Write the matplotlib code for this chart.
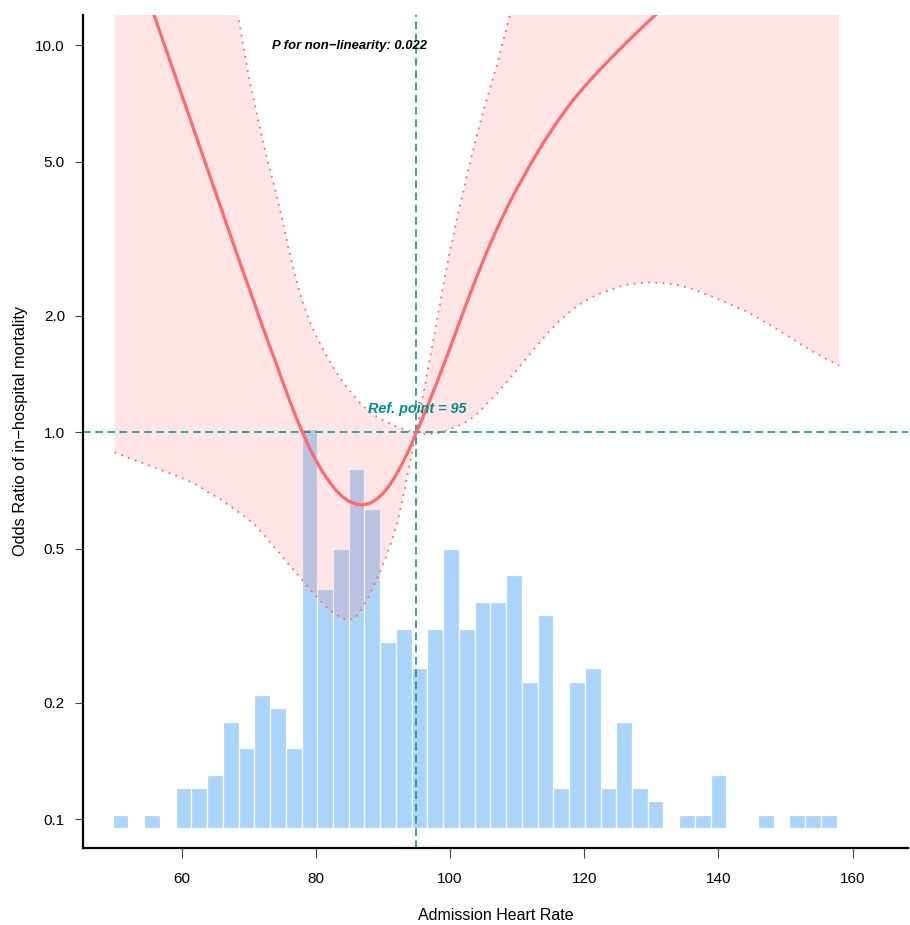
import matplotlib.pyplot as plt
import numpy as np

# heart rate grid and spline OR estimates with 95% CI
hr = [50, 52, 54, 56, 58, 60, 62, 64, 66, 68, 69, 70, 71, 72, 73, 74, 75, 76, 77, 78, 79, 80,
      81, 82, 83, 84, 85, 86, 87, 88, 89, 90, 91, 92, 93, 94, 95, 96, 97, 98, 99, 100, 101,
      102, 103, 104, 105, 106, 107, 108, 109, 110, 112, 114, 116, 118, 120, 122, 124, 126,
      128, 130, 132, 134, 136, 138, 140, 142, 144, 146, 148, 150, 152, 154, 156, 158]

odds = [23.6, 18.75, 14.9, 11.83, 9.40, 7.46, 5.93, 4.71, 3.74, 2.97, 2.65, 2.37, 2.12, 1.89,
        1.69, 1.52, 1.36, 1.22, 1.10, 1.0, 0.916, 0.847, 0.791, 0.745, 0.708, 0.681, 0.662,
        0.652, 0.649, 0.655, 0.670, 0.695, 0.731, 0.778, 0.838, 0.910, 1.0, 1.099, 1.211,
        1.340, 1.486, 1.652, 1.841, 2.051, 2.280, 2.529, 2.793, 3.069, 3.357, 3.656, 3.963,
        4.276, 4.932, 5.636, 6.353, 7.096, 7.816, 8.531, 9.268, 10.05, 10.86, 11.72, 12.6,
        13.6, 14.6, 15.7, 16.9, 18.2, 19.6, 21.1, 22.7, 24.4, 26.2, 28.2, 30.3, 32.6]

upper = [700, 420, 250, 150, 95, 62, 42, 30, 21, 13.2, 10.4, 8.3, 6.9, 5.75, 4.9, 4.2, 3.55,
         2.95, 2.5, 2.18, 1.95, 1.78, 1.65, 1.53, 1.435, 1.35, 1.285, 1.22, 1.17, 1.13, 1.1,
         1.075, 1.055, 1.035, 1.02, 1.008, 1.0, 1.25, 1.55, 1.93, 2.4, 2.95, 3.55, 4.2, 5.0,
         5.85, 6.8, 7.8, 8.9, 10.4, 12.1, 14, 18.5, 24, 31, 39, 48, 58, 70, 83, 97, 112, 128,
         145, 163, 182, 200, 220, 240, 260, 280, 300, 320, 340, 360, 380]

lower = [0.888, 0.86, 0.835, 0.81, 0.787, 0.763, 0.735, 0.70, 0.668, 0.63, 0.613, 0.595,
         0.574, 0.55, 0.525, 0.50, 0.478, 0.455, 0.435, 0.415, 0.395, 0.378, 0.362, 0.348,
         0.338, 0.33, 0.327, 0.333, 0.352, 0.38, 0.413, 0.455, 0.505, 0.57, 0.68, 0.83, 1.0,
         0.99, 0.99, 0.995, 1.005, 1.02, 1.035, 1.055, 1.08, 1.115, 1.16, 1.21, 1.26, 1.32,
         1.385, 1.45, 1.60, 1.76, 1.92, 2.06, 2.18, 2.27, 2.34, 2.40, 2.43, 2.44, 2.43, 2.40,
         2.35, 2.28, 2.21, 2.13, 2.06, 1.97, 1.88, 1.79, 1.70, 1.62, 1.55, 1.49]

# histogram of admission heart rate (46 bins)
hist_edges = np.linspace(49.73, 157.6, 47)
hist_counts = [1, 0, 1, 0, 3, 3, 4, 8, 6, 10, 9, 6, 30, 18, 21, 27, 24, 14, 15, 12, 15, 21,
               15, 17, 17, 19, 11, 16, 3, 11, 12, 3, 8, 3, 2, 0, 1, 1, 4, 0, 0, 1, 0, 1, 1, 1]

ref_point = 95
p_text = "P for non\u2212linearity: 0.022"
y_ticks = [0.1, 0.2, 0.5, 1.0, 2.0, 5.0, 10.0]
x_ticks = [60, 80, 100, 120, 140, 160]

plt.rcParams['font.family'] = ['Liberation Sans', 'DejaVu Sans']

red = '#ff6a6a'
teal = '#008b8b'

fig = plt.figure(figsize=(9.1, 9.25), dpi=100)
rect = [83 / 910, 77 / 925, 825 / 910, 833.3 / 925]

# histogram lives on its own linear axis underneath
ax_h = fig.add_axes(rect)
ax_h.bar(hist_edges[:-1], hist_counts, width=np.diff(hist_edges), align='edge',
         color='#aad4fa', edgecolor='white', linewidth=0.9)
ax_h.set_ylim(-1.5, 61.15)
ax_h.axis('off')

ax = fig.add_axes(rect, sharex=ax_h)
ax.patch.set_alpha(0)
ax.set_yscale('log')

ax.fill_between(hr, lower, upper, color=red, alpha=0.17, lw=0)
ax.plot(hr, upper, color=red, lw=1.3, ls=(0, (1, 3)))
ax.plot(hr, lower, color=red, lw=1.3, ls=(0, (1, 3)))
ax.axhline(1, color=teal, lw=1.1, ls=(0, (5, 3)))
ax.axvline(ref_point, color=teal, lw=1.1, ls=(0, (5, 3)))
ax.plot(hr, odds, color=red, lw=2.3)

ax.text(85, 9.8, p_text, ha='center', va='baseline', fontsize=9.4,
        fontweight='bold', style='italic')
ax.text(ref_point + 0.1, 1.122, f"Ref. point = {ref_point}", ha='center', va='baseline',
        fontsize=10.4, fontweight='bold', style='italic', color=teal)

ax.set_xlim(45.3, 168.25)
ax.set_ylim(0.0843, 12.0)
ax.set_yticks(y_ticks)
ax.set_yticklabels([f"{v:.1f}" for v in y_ticks])
ax.yaxis.set_minor_locator(plt.NullLocator())
ax.set_xticks(x_ticks)

for s in ('top', 'right'):
    ax.spines[s].set_visible(False)
for s in ('left', 'bottom'):
    ax.spines[s].set_linewidth(1.6)

ax.tick_params(axis='y', length=6, width=0.8, color='#444444', pad=7, labelsize=11)
ax.tick_params(axis='x', length=7, width=0.8, color='#444444', pad=10, labelsize=11)
ax.set_xlabel("Admission Heart Rate", fontsize=11.5, labelpad=16)
ax.set_ylabel("Odds Ratio of in\u2212hospital mortality", fontsize=11.8, labelpad=5)

fig.savefig("out.png", dpi=100)
